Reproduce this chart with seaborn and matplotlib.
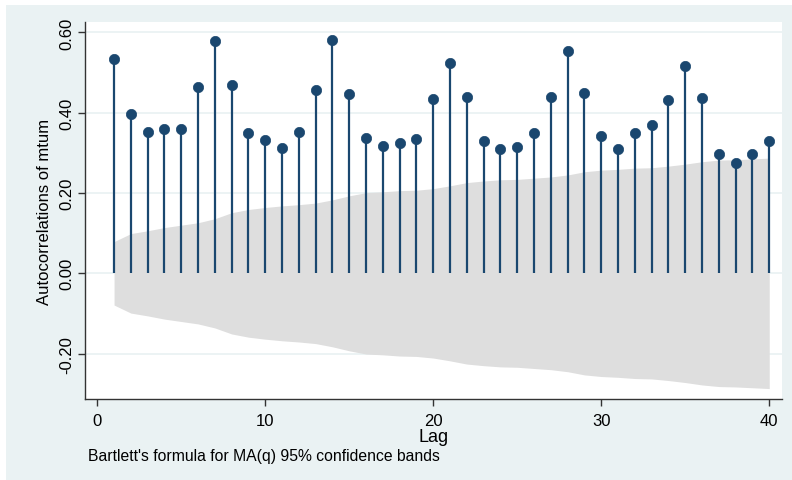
import numpy as np
import pandas as pd
import matplotlib
matplotlib.use("Agg")
import matplotlib.pyplot as plt
import seaborn as sns
from matplotlib.patches import Rectangle

# lags and autocorrelations
lags = list(range(1, 41))
acf = [0.535, 0.398, 0.353, 0.360, 0.360, 0.465, 0.578, 0.469, 0.349, 0.331,
       0.311, 0.353, 0.457, 0.582, 0.446, 0.337, 0.318, 0.325, 0.334, 0.433,
       0.524, 0.440, 0.329, 0.310, 0.315, 0.349, 0.440, 0.555, 0.450, 0.343,
       0.309, 0.349, 0.369, 0.431, 0.516, 0.437, 0.296, 0.276, 0.297, 0.329]
# half width of the 95% band (Bartlett)
band = [0.079, 0.099, 0.106, 0.114, 0.120, 0.126, 0.136, 0.151, 0.159, 0.164,
        0.168, 0.171, 0.175, 0.183, 0.193, 0.201, 0.203, 0.206, 0.207, 0.211,
        0.218, 0.226, 0.230, 0.233, 0.234, 0.237, 0.240, 0.245, 0.253, 0.257,
        0.259, 0.262, 0.263, 0.267, 0.272, 0.278, 0.282, 0.283, 0.285, 0.287]
y_ticks = [-0.20, 0.00, 0.20, 0.40, 0.60]
x_ticks = [0, 10, 20, 30, 40]

df = pd.DataFrame({"lag": lags, "acf": acf, "band": band})

sns.set_theme(style="white")
plt.rcParams['font.family'] = ['Liberation Sans', 'DejaVu Sans']

W, H = 792, 481
fig = plt.figure(figsize=(W / 100, H / 100), dpi=100)
fig.patch.set_facecolor("white")
# stata-like outer panel
fig.patches.append(Rectangle((6 / W, 0), 1 - 6 / W, 1 - 6 / H, transform=fig.transFigure,
                             facecolor="#EAF2F3", edgecolor="none", zorder=-10))

ax = fig.add_axes([85 / W, (H - 400) / H, (782 - 85) / W, (400 - 23) / H])
ax.set_zorder(1)
ax.set_facecolor("white")

navy = "#1A476F"
grid_c = "#EAF2F3"

for yv in y_ticks:
    ax.axhline(yv, color=grid_c, lw=1.3, zorder=1)

ax.fill_between(df["lag"], -df["band"], df["band"], color="#DEDEDE", lw=0, zorder=2)
ax.vlines(df["lag"], 0, df["acf"], color=navy, lw=1.6, zorder=3)
sns.scatterplot(data=df, x="lag", y="acf", ax=ax, color=navy, s=55,
                edgecolor=navy, linewidth=0.5, zorder=4, legend=False)

ax.set_xlim(-0.73, 40.76)
ax.set_ylim(-0.313, 0.626)
ax.set_xticks(x_ticks)
ax.set_yticks(y_ticks)
ax.set_yticklabels([f"{v:.2f}" for v in y_ticks], rotation=90, va="center")
ax.tick_params(axis="both", which="both", direction="out", length=5, width=1,
               color="#333333", labelsize=12, labelcolor="black", pad=3,
               bottom=True, left=True)
ax.tick_params(axis="x", pad=5)

for side in ["top", "right"]:
    ax.spines[side].set_visible(False)
for side in ["left", "bottom"]:
    ax.spines[side].set_color("#333333")
    ax.spines[side].set_linewidth(1)

ax.set_xlabel("Lag", fontsize=13, labelpad=0, color="black")
ax.set_ylabel("Autocorrelations of mtum", fontsize=12, labelpad=5, color="black")

fig.text(88 / W, 1 - 457 / H, "Bartlett's formula for MA(q) 95% confidence bands",
         fontsize=11.3, va="center", ha="left", color="black")

fig.savefig("out.png", dpi=100, facecolor=fig.get_facecolor())
